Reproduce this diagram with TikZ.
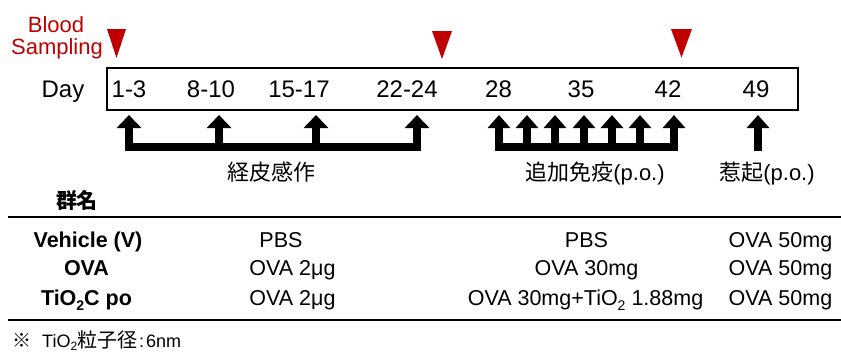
\documentclass[tikz,border=0pt]{standalone}
\usepackage{fontspec}
\setmainfont{Liberation Sans}
\newfontfamily\cjk{Noto Sans CJK JP}
\usetikzlibrary{arrows.meta}
\definecolor{bloodred}{RGB}{192,0,0}
\newcommand\lowidx[3]{\raisebox{-#2}{\fontsize{#1}{#1}\selectfont #3}}
\begin{document}
\begin{tikzpicture}[x=1pt,y=-1pt,
  txt/.style={inner sep=0pt, anchor=base},
  day/.style={txt, font=\fontsize{24}{28}\selectfont},
  tab/.style={txt, font=\fontsize{21.5}{24}\selectfont},
  grp/.style={txt, font=\fontsize{21.5}{24}\selectfont\bfseries},
  lab/.style={txt, font=\fontsize{22}{26}\selectfont},
  redtxt/.style={txt, font=\fontsize{22}{26}\selectfont, text=bloodred},
  marker/.style={fill=bloodred},
  arrA/.style={line width=8pt, -{Triangle[width=24pt,length=13pt]}},
  brkA/.style={line width=8pt, line join=miter, {Triangle[width=24pt,length=13pt]}-{Triangle[width=24pt,length=13pt]}},
  arrB/.style={line width=7.5pt, -{Triangle[width=22pt,length=13pt]}},
  brkB/.style={line width=7.5pt, line join=miter, {Triangle[width=22pt,length=13pt]}-{Triangle[width=22pt,length=13pt]}},
  rulel/.style={line width=2pt}
]
\useasboundingbox (0,0) rectangle (841,351);

% blood sampling
\node[redtxt] (blood) at (56,32) {Blood};
\node[redtxt] (sampling) at (57,54) {Sampling};
\fill[marker] (107,29) -- (126,29) -- (116.5,58) -- cycle;
\fill[marker] (432,31) -- (452,31) -- (442,59) -- cycle;
\fill[marker] (671,29) -- (692,29) -- (681.5,57.5) -- cycle;

% day box
\node[draw, line width=2pt, inner sep=0pt, anchor=north west,
      minimum width=691pt, minimum height=41.5pt] (box) at (106,67) {};
\node[day] (daylbl) at (63,97) {Day};
\node[day] (d1) at (129,97) {1-3};
\node[day] (d2) at (211,97) {8-10};
\node[day] (d3) at (299,97) {15-17};
\node[day] (d4) at (407,97) {22-24};
\node[day] (d5) at (498.5,97) {28};
\node[day] (d6) at (581,97) {35};
\node[day] (d7) at (668,97) {42};
\node[day] (d8) at (756,97) {49};

% sensitization arrows
\coordinate (s1) at (129,115);  \coordinate (s1b) at (129,146.5);
\coordinate (s2) at (219,115);  \coordinate (s2b) at (219,146.5);
\coordinate (s3) at (316,115);  \coordinate (s3b) at (316,146.5);
\coordinate (s4) at (417,115);  \coordinate (s4b) at (417,146.5);
\draw[brkA] (s1) -- (s1b) -- (s4b) -- (s4);
\draw[arrA] (s2b) -- (s2);
\draw[arrA] (s3b) -- (s3);

% booster arrows
\coordinate (b1) at (499,115);  \coordinate (b1b) at (499,147);
\coordinate (b2) at (527,115);  \coordinate (b2b) at (527,147);
\coordinate (b3) at (555,115);  \coordinate (b3b) at (555,147);
\coordinate (b4) at (584,115);  \coordinate (b4b) at (584,147);
\coordinate (b5) at (612,115);  \coordinate (b5b) at (612,147);
\coordinate (b6) at (640,115);  \coordinate (b6b) at (640,147);
\coordinate (b7) at (674,115);  \coordinate (b7b) at (674,147);
\draw[brkB] (b1) -- (b1b) -- (b7b) -- (b7);
\draw[arrB] (b2b) -- (b2);
\draw[arrB] (b3b) -- (b3);
\draw[arrB] (b4b) -- (b4);
\draw[arrB] (b5b) -- (b5);
\draw[arrB] (b6b) -- (b6);

% challenge arrow
\coordinate (c1) at (758,115);  \coordinate (c1b) at (758,150.5);
\draw[arrB] (c1b) -- (c1);

% phase labels
\node[lab] (sens) at (271.5,180.5) {\cjk 経皮感作};
\node[lab] (boost) at (595,180.5) {{\cjk 追加免疫}(p.o.)};
\node[lab] (chal) at (767,180.5) {{\cjk 惹起}(p.o.)};

% table
\node[txt, font=\fontsize{21}{24}\selectfont\cjk\bfseries] (grpname) at (77,208.5) {群名};
\coordinate (rtl) at (8,217);  \coordinate (rtr) at (841,217);
\coordinate (rbl) at (8,320);  \coordinate (rbr) at (841,320);
\draw[rulel] (rtl) -- (rtr);
\draw[rulel] (rbl) -- (rbr);

\node[grp] (g1) at (88,247) {Vehicle (V)};
\node[grp] (g2) at (86.5,275) {OVA};
\node[grp] (g3) at (86.5,305) {TiO\lowidx{14}{5pt}{2}C po};

\node[tab] (p1) at (281,247) {PBS};
\node[tab] (p2) at (292.5,275) {OVA 2μg};
\node[tab] (p3) at (292.5,305) {OVA 2μg};

\node[tab] (q1) at (586.5,247) {PBS};
\node[tab] (q2) at (586.5,275) {OVA 30mg};
\node[tab] (q3) at (585.5,305) {OVA 30mg+TiO\lowidx{14}{5pt}{2} 1.88mg};

\node[tab] (r1) at (780.5,247) {OVA 50mg};
\node[tab] (r2) at (780.5,275) {OVA 50mg};
\node[tab] (r3) at (780.5,305) {OVA 50mg};

% footnote
\node[txt, anchor=base west, font=\fontsize{18}{20}\selectfont] (note) at (12,347)
  {{\fontsize{19}{19}\selectfont\cjk ※}\hspace{11pt}TiO\lowidx{12}{3pt}{2}{\fontsize{20}{20}\selectfont\cjk 粒子径}\hspace{2pt}:\hspace{2pt}6nm};
\end{tikzpicture}
\end{document}
